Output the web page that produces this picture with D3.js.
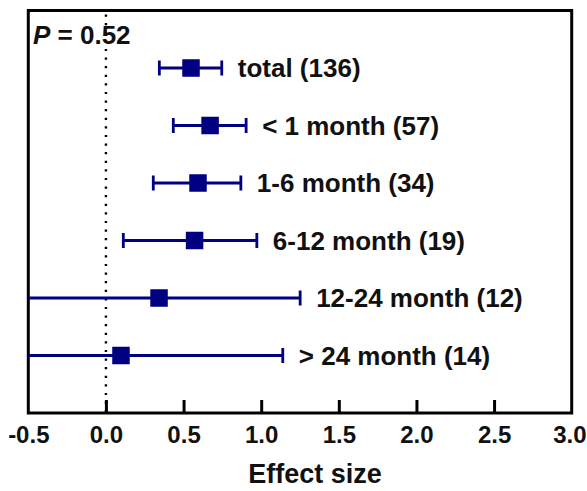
<!DOCTYPE html>
<html>
<head>
<meta charset="utf-8">
<script src="https://cdn.jsdelivr.net/npm/d3@7"></script>
<style>
  html, body { margin: 0; padding: 0; background: #fff; }
  svg text { font-family: "Liberation Sans", Arial, sans-serif; font-weight: bold; fill: #111; }
</style>
</head>
<body>
<svg id="chart" width="587" height="491"></svg>
<script>
const categories = ["total (136)", "< 1 month (57)", "1-6 month (34)", "6-12 month (19)", "12-24 month (12)", "> 24 month (14)"];
const effect = [0.548, 0.671, 0.593, 0.571, 0.342, 0.097];
const ciLow = [0.344, 0.434, 0.305, 0.112, -0.57, -0.95];
const ciHigh = [0.746, 0.903, 0.869, 0.972, 1.251, 1.139];
const xTicks = [-0.5, 0.0, 0.5, 1.0, 1.5, 2.0, 2.5, 3.0];
const pText = "0.52";
const xTitle = "Effect size";

const svg = d3.select("#chart");
const L = 28.3, R = 571.7, T = 10.5, B = 413;
const x = d3.scaleLinear().domain([-0.5, 3.0]).range([L, R]);
const y = d3.scalePoint().domain(categories).range([T, B]).padding(1);
const navy = "#000080";

svg.append("defs").append("clipPath").attr("id", "clip")
  .append("rect").attr("x", L).attr("y", T).attr("width", R - L).attr("height", B - T);

// zero reference dotted line
svg.append("line")
  .attr("x1", x(0)).attr("x2", x(0)).attr("y1", T + 4).attr("y2", B)
  .attr("stroke", "#000").attr("stroke-width", 2.4)
  .attr("stroke-dasharray", "2.2,6.4");

// axis with inward ticks
const xAxis = d3.axisBottom(x).tickValues(xTicks).tickFormat(d => d.toFixed(1)).tickSizeInner(-13).tickSizeOuter(0).tickPadding(16);
const ax = svg.append("g").attr("transform", `translate(0,${B})`).call(xAxis);
ax.select(".domain").remove();
ax.selectAll(".tick line").attr("stroke", "#000").attr("stroke-width", 3);
ax.selectAll(".tick").filter(d => d === -0.5 || d === 3.0).select("line").remove();
ax.selectAll(".tick text").attr("font-size", 24).attr("dy", 0).attr("y", 30).attr("fill", "#111")
  .style("font-family", '"Liberation Sans", Arial, sans-serif').style("font-weight", "bold");
ax.selectAll(".tick").filter(d => d === 3.0).select("text")
  .attr("text-anchor", "end").attr("x", 587 - 1 - R);

// frame
svg.append("rect").attr("x", L).attr("y", T).attr("width", R - L).attr("height", B - T)
  .attr("fill", "none").attr("stroke", "#000").attr("stroke-width", 3);

// error bars
const g = svg.append("g").attr("clip-path", "url(#clip)");
const rows = categories.map((c, i) => ({ c, e: effect[i], lo: ciLow[i], hi: ciHigh[i] }));
g.selectAll("line.ci").data(rows).join("line")
  .attr("x1", d => x(d.lo)).attr("x2", d => x(d.hi))
  .attr("y1", d => y(d.c)).attr("y2", d => y(d.c))
  .attr("stroke", navy).attr("stroke-width", 2.8);
const capH = 15;
["lo", "hi"].forEach(k => {
  g.selectAll("line.cap" + k).data(rows.filter(d => d[k] >= -0.5)).join("line")
    .attr("x1", d => x(d[k])).attr("x2", d => x(d[k]))
    .attr("y1", d => y(d.c) - capH / 2).attr("y2", d => y(d.c) + capH / 2)
    .attr("stroke", navy).attr("stroke-width", 2.8);
});
const sq = 17.5;
g.selectAll("rect.pt").data(rows).join("rect")
  .attr("x", d => x(d.e) - sq / 2).attr("y", d => y(d.c) - sq / 2)
  .attr("width", sq).attr("height", sq).attr("fill", navy);

// labels
svg.selectAll("text.lab").data(rows).join("text")
  .attr("x", d => x(d.hi) + 16).attr("y", d => y(d.c) + 9)
  .attr("font-size", 26).text(d => d.c);

// P value
const pt = svg.append("text").attr("x", 33).attr("y", 44).attr("font-size", 26);
pt.append("tspan").attr("font-style", "italic").text("P");
pt.append("tspan").text(" = " + pText);

// axis title
svg.append("text").attr("x", (L + R) / 2 + 15).attr("y", 483).attr("text-anchor", "middle")
  .attr("font-size", 27).text(xTitle);
</script>
</body>
</html>
